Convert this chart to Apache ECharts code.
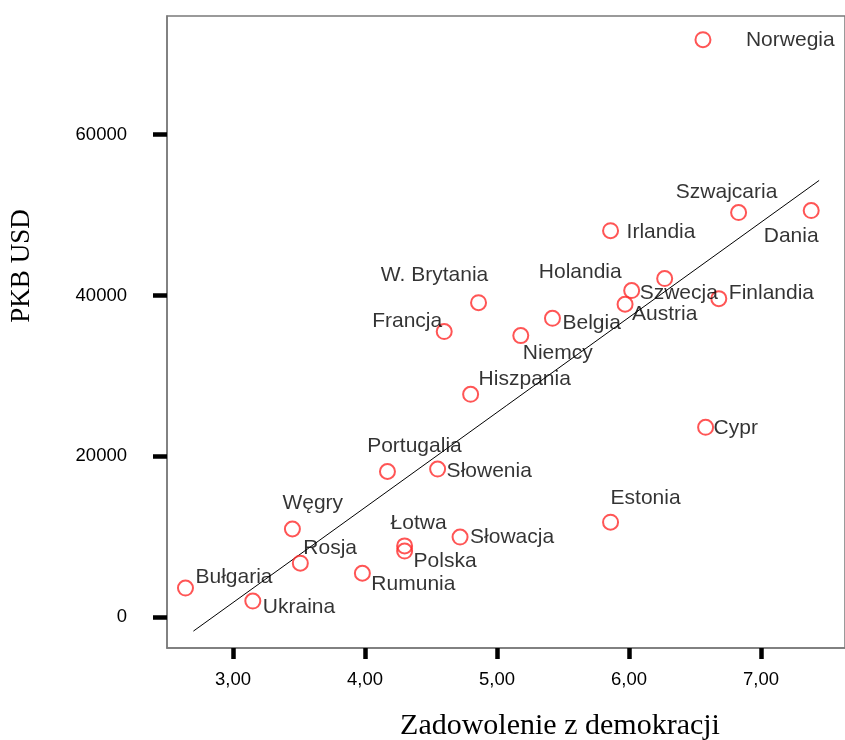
<!DOCTYPE html>
<html>
<head>
<meta charset="utf-8">
<script src="https://cdn.jsdelivr.net/npm/echarts@6/dist/echarts.min.js"></script>
<style>
html,body{margin:0;padding:0;background:#fff;}
#chart{width:845px;height:740px;}
</style>
</head>
<body>
<div id="chart"></div>
<script>
// ---- data ----
const countries = ["Norwegia","Szwajcaria","Dania","Irlandia","Holandia","Szwecja","Austria","Finlandia","W. Brytania","Belgia","Francja","Niemcy","Hiszpania","Cypr","Portugalia","Słowenia","Estonia","Węgry","Łotwa","Polska","Słowacja","Rosja","Rumunia","Bułgaria","Ukraina"];
const satisfaction = [6.56,6.83,7.38,5.86,6.27,6.02,5.97,6.68,4.86,5.42,4.60,5.18,4.80,6.58,4.17,4.55,5.86,3.45,4.30,4.30,4.72,3.51,3.98,2.64,3.15];
const gdp = [71800,50300,50550,48050,42100,40600,38900,39600,39100,37150,35500,35000,27700,23600,18100,18400,11800,10950,8850,8200,9950,6700,5450,3600,1990];
const fitX = [2.70,7.44];
const fitY = [-1750,54300];
const xTicks = [3,4,5,6,7];
const yTicks = [0,20000,40000,60000];
const xTitle = "Zadowolenie z demokracji";
const yTitle = "PKB USD";

// ---- label layout (style only): [align, dx, dy] relative to marker centre ----
const labelLayoutMap = {
  "Norwegia":["left",43,0],
  "Szwajcaria":["center",-12,-20],
  "Dania":["center",-20,26],
  "Irlandia":["left",16,2],
  "Holandia":["right",-43,-6],
  "Szwecja":["left",8,3],
  "Austria":["left",7,10],
  "Finlandia":["left",10,-5],
  "W. Brytania":["center",-44,-27],
  "Belgia":["left",10,5],
  "Francja":["right",-2,-10],
  "Niemcy":["left",2,18],
  "Hiszpania":["left",8,-15],
  "Cypr":["left",8,1],
  "Portugalia":["center",27,-25],
  "Słowenia":["left",9,2],
  "Estonia":["left",0,-24],
  "Węgry":["left",-10,-26],
  "Łotwa":["left",-14,-23],
  "Polska":["left",9,10],
  "Słowacja":["left",10,0],
  "Rosja":["left",3,-15],
  "Rumunia":["left",9,11],
  "Bułgaria":["left",10,-11],
  "Ukraina":["left",10,6]
};

const pts = countries.map((c,i)=>({name:c,value:[satisfaction[i],gdp[i]]}));

const chart = echarts.init(document.getElementById('chart'),null,{renderer:'canvas'});
const axisColor = '#7a7a7a';
chart.setOption({
  backgroundColor:'#ffffff',
  animation:false,
  grid:{left:167,top:16,bottom:92,right:0,show:true,borderColor:axisColor,borderWidth:1.5,backgroundColor:'transparent'},
  xAxis:{
    type:'value',min:2.5,max:7.636,
    splitLine:{show:false},
    axisLine:{show:true,onZero:false,lineStyle:{color:axisColor,width:1.5}},
    axisTick:{show:true,customValues:xTicks,length:11,lineStyle:{color:'#000',width:4.5}},
    axisLabel:{customValues:xTicks,margin:22,color:'#000',fontFamily:'Liberation Sans',fontSize:18.5,
      formatter:v=>v.toFixed(2).replace('.',',')}
  },
  yAxis:{
    type:'value',min:-3850,max:74750,
    splitLine:{show:false},
    axisLine:{show:true,onZero:false,lineStyle:{color:axisColor,width:1.5}},
    axisTick:{show:true,customValues:yTicks,length:14,lineStyle:{color:'#000',width:4.5}},
    axisLabel:{customValues:yTicks,margin:40,color:'#000',fontFamily:'Liberation Sans',fontSize:18.5,
      formatter:v=>String(v)}
  },
  series:[
    {
      type:'line',
      data:fitX.map((x,i)=>[x,fitY[i]]),
      showSymbol:false,symbol:'none',
      lineStyle:{color:'#000',width:1},
      silent:true,z:1
    },
    {
      type:'scatter',
      data:pts,
      symbol:'circle',symbolSize:15,
      itemStyle:{color:'rgba(255,255,255,0)',borderColor:'#ff2a2a',borderWidth:2},
      label:{show:true,position:'inside',formatter:'{b}',
        color:'#000',fontFamily:'Liberation Sans',fontSize:21,textBorderWidth:0},
      labelLayout:function(p){
        const L = labelLayoutMap[countries[p.dataIndex]];
        const cx = p.rect.x + p.rect.width/2;
        const cy = p.rect.y + p.rect.height/2;
        return {x:cx+L[1], y:cy+L[2], align:L[0], verticalAlign:'middle', hideOverlap:false};
      },
      z:2
    }
  ],
  graphic:[
    {type:'text',x:560,y:726,style:{text:xTitle,font:'30px "Liberation Serif"',fill:'#000',align:'center',verticalAlign:'middle'}},
    {type:'text',x:22,y:266,rotation:Math.PI/2,style:{text:yTitle,font:'27px "Liberation Serif"',fill:'#000',align:'center',verticalAlign:'middle'}}
  ]
});
</script>
</body>
</html>
